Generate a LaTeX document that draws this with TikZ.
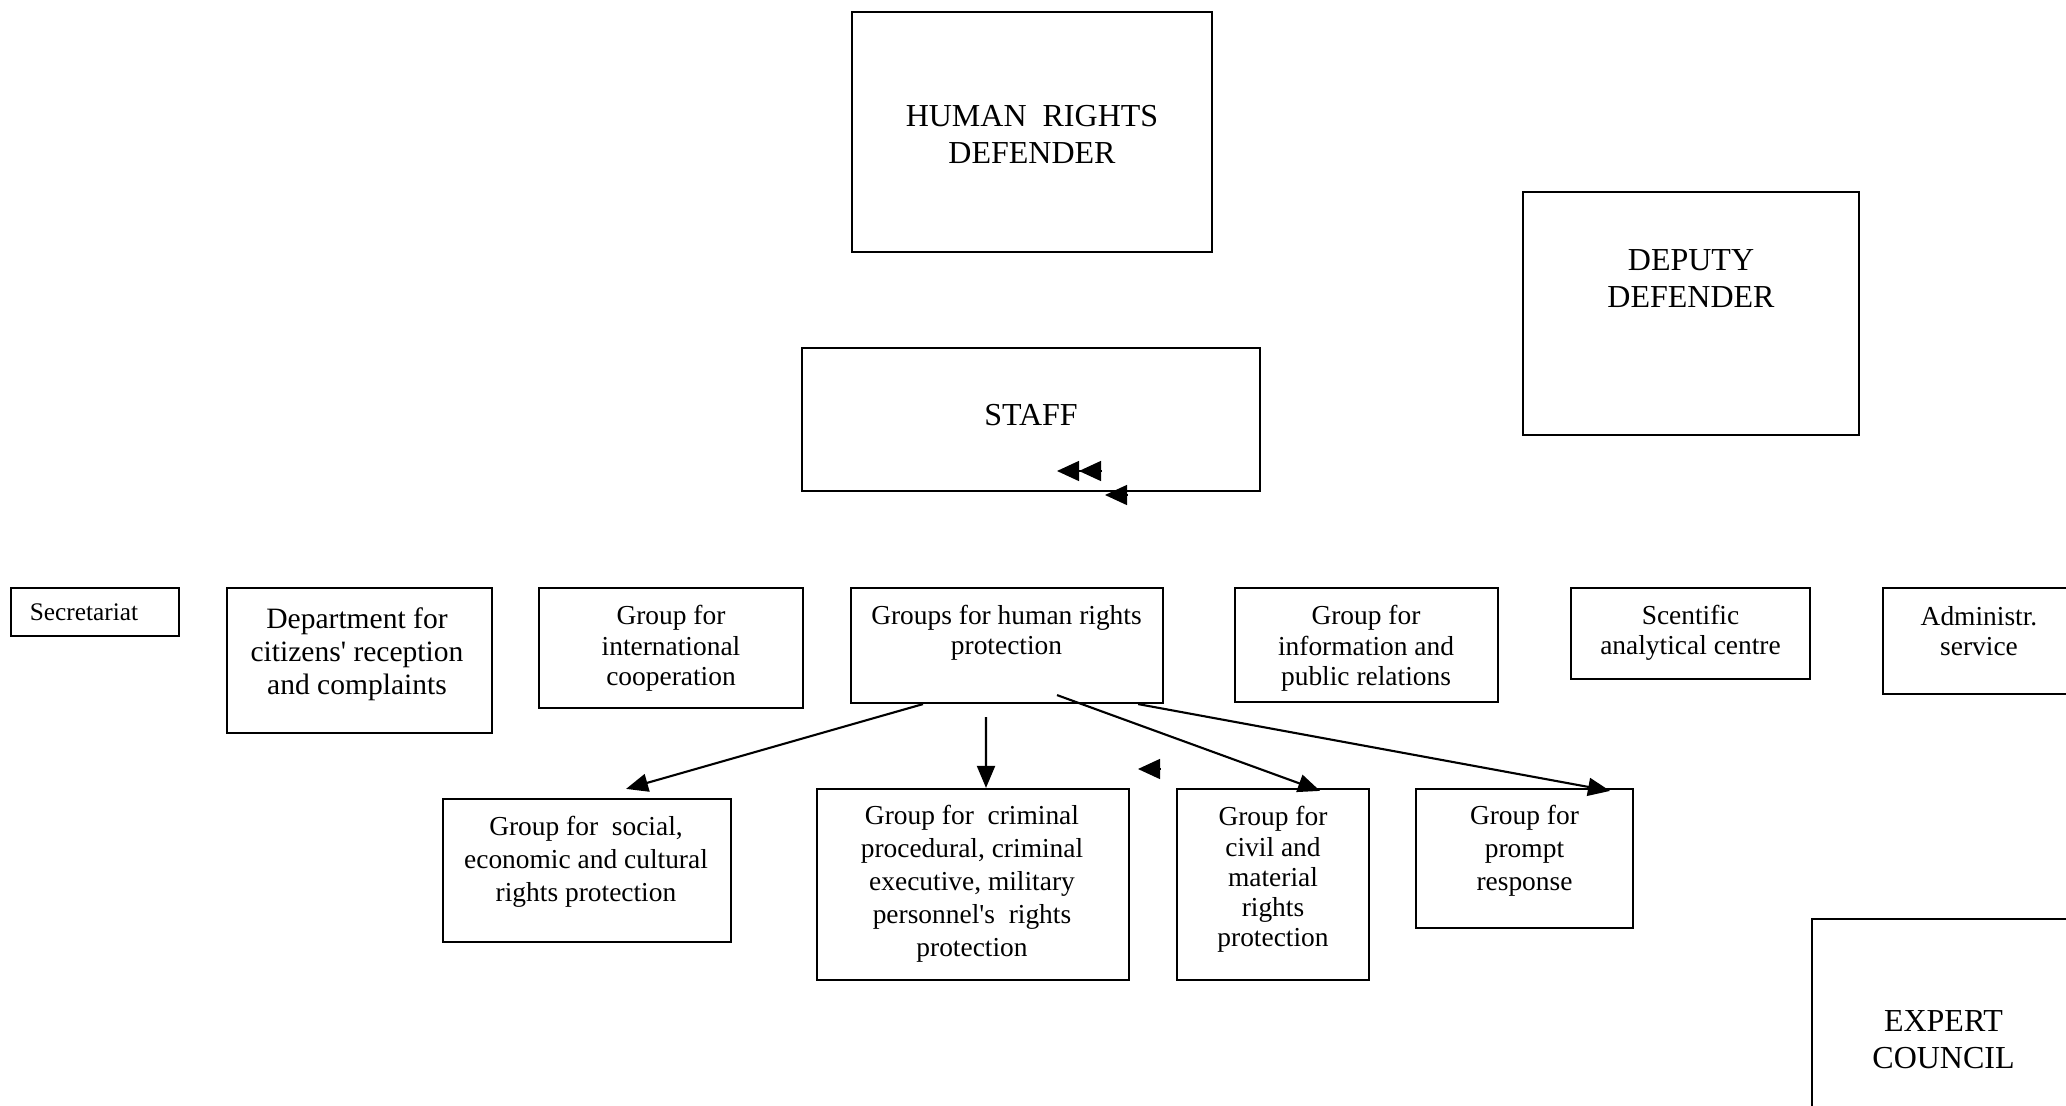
\documentclass[tikz,border=0pt]{standalone}
\usepackage{fontspec}
\setmainfont{Liberation Serif}
\usepackage{tikz}
\usetikzlibrary{arrows.meta}

\tikzset{
    box/.style={draw, line width=0.6pt, inner sep=0pt},
    txt/.style={inner sep=0pt, align=center, font=\fontsize{7.8}{8.6}\selectfont},
    txtw/.style={inner sep=0pt, align=center, font=\fontsize{7.8}{9.4}\selectfont},
    bigtxt/.style={inner sep=0pt, align=center, font=\fontsize{9.1}{10.5}\selectfont},
    arr/.style={line width=0.6pt, -{Triangle[length=0.22cm,width=0.18cm]}},
    loose/.style={-{Triangle[length=0.22cm,width=0.2cm]}},
    looses/.style={-{Triangle[length=0.22cm,width=0.2cm]Triangle[length=0.22cm,width=0.2cm]}}
}
\newcommand{\ap}{\textquotesingle}

\begin{document}
\begin{tikzpicture}[x=0.01cm,y=-0.01cm]
    \path[use as bounding box] (0,0) rectangle (2066,1106);
    \clip (0,0) rectangle (2066,1106);

    % top level
    \node[box, minimum width=3.60cm, minimum height=2.40cm] (hrd) at (1032,132) {};
    \node[bigtxt] (hrd-t) at (1032,134) {HUMAN\ \ RIGHTS\\DEFENDER};

    \node[box, minimum width=3.36cm, minimum height=2.43cm] (dep) at (1691,313.5) {};
    \node[bigtxt] (dep-t) at (1691,279) {DEPUTY\\DEFENDER};

    \node[box, minimum width=4.58cm, minimum height=1.43cm] (staff) at (1031,419.5) {};
    \node[bigtxt] (staff-t) at (1031,415) {STAFF};

    % middle row
    \node[box, minimum width=1.68cm, minimum height=0.48cm] (sec) at (95,612) {};
    \node[txt, font=\fontsize{7.2}{8.5}\selectfont] (sec-t) at (84,612) {Secretariat};

    \node[box, minimum width=2.65cm, minimum height=1.45cm] (dept) at (359.5,660.5) {};
    \node[txtw, font=\fontsize{8.4}{9.4}\selectfont] (dept-t) at (357,654.5) {Department for\\citizens\ap{} reception\\and complaints};

    \node[box, minimum width=2.64cm, minimum height=1.20cm] (intl) at (671,648) {};
    \node[txt] (intl-t) at (671,648.5) {Group for\\international\\cooperation};

    \node[box, minimum width=3.12cm, minimum height=1.15cm] (grp) at (1007,645.5) {};
    \node[txt] (grp-t) at (1006.5,633) {Groups for human rights\\protection};

    \node[box, minimum width=2.63cm, minimum height=1.14cm] (info) at (1366.5,645) {};
    \node[txt] (info-t) at (1366,648.5) {Group for\\information and\\public relations};

    \node[box, minimum width=2.39cm, minimum height=0.91cm] (sci) at (1690.5,633.5) {};
    \node[txt] (sci-t) at (1690.5,633) {Scentific\\analytical centre};

    \node[box, minimum width=1.92cm, minimum height=1.06cm] (adm) at (1979,641) {};
    \node[txt] (adm-t) at (1979,631) {Administr.\\service};

    % lower row
    \node[box, minimum width=2.88cm, minimum height=1.43cm] (soc) at (587,870.5) {};
    \node[txtw] (soc-t) at (586,862) {Group for\ \ social,\\economic and cultural\\rights protection};

    \node[box, minimum width=3.12cm, minimum height=1.91cm] (cri) at (973,884.5) {};
    \node[txtw] (cri-t) at (972,884) {Group for\ \ criminal\\procedural, criminal\\executive, military\\personnel\ap{}s\ \ rights\\protection};

    \node[box, minimum width=1.92cm, minimum height=1.91cm] (civ) at (1273,884.5) {};
    \node[txt] (civ-t) at (1273,879.5) {Group for\\civil and\\material\\rights\\protection};

    \node[box, minimum width=2.17cm, minimum height=1.39cm] (pro) at (1524.5,858.5) {};
    \node[txtw] (pro-t) at (1524.5,851) {Group for\\prompt\\response};

    \node[box, minimum width=2.63cm, minimum height=2.81cm] (exp) at (1943.5,1059.5) {};
    \node[bigtxt] (exp-t) at (1943.5,1040) {EXPERT\\COUNCIL};

    % connectors
    \draw[arr] ([xshift=-0.84cm]grp.south) -- ([xshift=0.39cm,yshift=0.09cm]soc.north);
    \draw[arr] ([xshift=-0.21cm,yshift=-0.13cm]grp.south) -- ([xshift=0.13cm]cri.north);
    \draw[arr] ([xshift=0.50cm,yshift=0.09cm]grp.south) -- ([xshift=0.47cm,yshift=-0.03cm]civ.north);
    \draw[arr] ([xshift=1.31cm]grp.south) -- ([xshift=0.855cm,yshift=-0.03cm]pro.north);

    % loose arrow heads
    \coordinate (s1a) at (1102,471);
    \coordinate (s1b) at (1057,471);
    \coordinate (s2a) at (1127,495);
    \coordinate (s2b) at (1105,495);
    \coordinate (s3a) at (1160,769);
    \coordinate (s3b) at (1138,769);
    \draw[looses] (s1a) -- (s1b);
    \draw[loose] (s2a) -- (s2b);
    \draw[loose] (s3a) -- (s3b);
\end{tikzpicture}
\end{document}
